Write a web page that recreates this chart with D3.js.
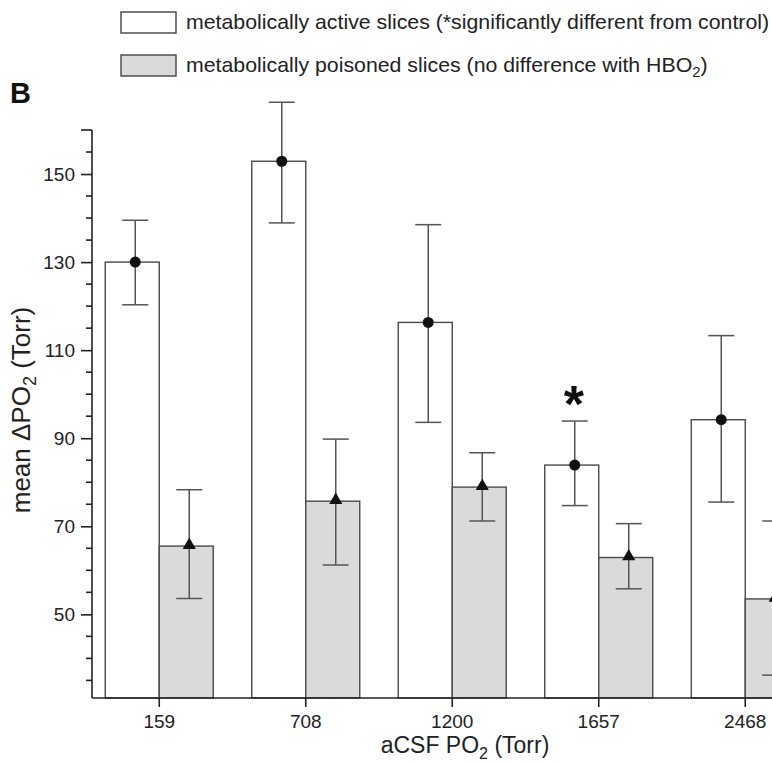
<!DOCTYPE html>
<html>
<head>
    <style>
        body { margin: 0; background: #fff; }
        svg { font-family: "Liberation Sans", Arial, sans-serif; }
        .axis path, .axis line { stroke: #222; stroke-width: 1.6; }
        .axis text { font-size: 19px; fill: #222; }
    </style>
    <script src="https://d3js.org/d3.v7.min.js"></script>
</head>
<body>

<svg width="772" height="764"></svg>

<script>

    var categories = ["159", "708", "1200", "1657", "2468"];

    // metabolically active slices
    var activeMean = [130, 152.9, 116.3, 83.9, 94.2];
    var activeLow  = [120.3, 138.9, 93.6, 74.7, 75.5];
    var activeHigh = [139.5, 166.3, 138.5, 93.9, 113.3];

    // metabolically poisoned slices
    var poisonMean = [65.5, 75.7, 78.9, 62.9, 53.5];
    var poisonLow  = [53.6, 61.2, 71.2, 55.8, 36.2];
    var poisonHigh = [78.3, 89.8, 86.7, 70.6, 71.2];

    var significant = [false, false, false, true, false];

    var yTicks = [50, 70, 90, 110, 130, 150];

    var svg = d3.select("svg");

    var x = d3.scaleBand()
        .domain(categories)
        .range([86, 86 + 5 * 146.5])
        .padding(0);

    var y = d3.scaleLinear()
        .domain([31, 160])
        .range([698, 130]);

    var bw = 54;
    var off = 3; // markers sit a bit right of bar center
    var mid = function(c) { return x(c) + x.bandwidth() / 2; };

    var active = categories.map(function(c, i) {
        return { c: c, m: activeMean[i], lo: activeLow[i], hi: activeHigh[i], cx: mid(c) - bw / 2 + off };
    });
    var poison = categories.map(function(c, i) {
        return { c: c, m: poisonMean[i], lo: poisonLow[i], hi: poisonHigh[i], cx: mid(c) + bw / 2 + off };
    });

    // bars
    svg.selectAll(".bar-a")
        .data(active)
      .enter().append("rect")
        .attr("x", function(d) { return mid(d.c) - bw; })
        .attr("y", function(d) { return y(d.m); })
        .attr("width", bw)
        .attr("height", function(d) { return y(31) - y(d.m); })
        .attr("fill", "#fff")
        .attr("stroke", "#4a4a4a")
        .attr("stroke-width", 1.4);

    svg.selectAll(".bar-p")
        .data(poison)
      .enter().append("rect")
        .attr("x", function(d) { return mid(d.c); })
        .attr("y", function(d) { return y(d.m); })
        .attr("width", bw)
        .attr("height", function(d) { return y(31) - y(d.m); })
        .attr("fill", "#dadada")
        .attr("stroke", "#4a4a4a")
        .attr("stroke-width", 1.4);

    // error bars
    var all = active.concat(poison);
    var eb = svg.selectAll(".err")
        .data(all)
      .enter().append("g")
        .attr("stroke", "#555")
        .attr("stroke-width", 1.5);
    eb.append("line")
        .attr("x1", function(d) { return d.cx; })
        .attr("x2", function(d) { return d.cx; })
        .attr("y1", function(d) { return y(d.lo); })
        .attr("y2", function(d) { return y(d.hi); });
    eb.append("line")
        .attr("x1", function(d) { return d.cx - 13; })
        .attr("x2", function(d) { return d.cx + 13; })
        .attr("y1", function(d) { return y(d.hi); })
        .attr("y2", function(d) { return y(d.hi); });
    eb.append("line")
        .attr("x1", function(d) { return d.cx - 13; })
        .attr("x2", function(d) { return d.cx + 13; })
        .attr("y1", function(d) { return y(d.lo); })
        .attr("y2", function(d) { return y(d.lo); });

    // markers
    svg.selectAll(".dot")
        .data(active)
      .enter().append("circle")
        .attr("cx", function(d) { return d.cx; })
        .attr("cy", function(d) { return y(d.m); })
        .attr("r", 5.5)
        .attr("fill", "#111");

    var tri = d3.symbol().type(d3.symbolTriangle).size(75);
    svg.selectAll(".tri")
        .data(poison)
      .enter().append("path")
        .attr("d", tri)
        .attr("transform", function(d) { return "translate(" + d.cx + "," + (y(d.m) - 1) + ")"; })
        .attr("fill", "#111");

    // significance star
    svg.selectAll(".star")
        .data(active.filter(function(d, i) { return significant[i]; }))
      .enter().append("text")
        .attr("x", function(d) { return d.cx - 1; })
        .attr("y", function(d) { return y(d.hi) + 1; })
        .attr("text-anchor", "middle")
        .attr("font-size", 52)
        .attr("font-weight", "bold")
        .attr("fill", "#111")
        .text("*");

    // axes
    var yAxis = svg.append("g")
        .attr("class", "axis")
        .attr("transform", "translate(92,0)")
        .call(d3.axisLeft(y).tickValues(yTicks).tickSize(11).tickPadding(6).tickSizeOuter(0));
    yAxis.select(".domain").remove();
    yAxis.append("line")
        .attr("x1", 0).attr("x2", 0)
        .attr("y1", y(160)).attr("y2", y(31))
        .attr("stroke", "#222").attr("stroke-width", 1.6);
    yAxis.append("line")
        .attr("x1", -11).attr("x2", 0)
        .attr("y1", y(160)).attr("y2", y(160))
        .attr("stroke", "#222").attr("stroke-width", 1.6);
    yAxis.selectAll(".minor")
        .data(d3.range(35, 160, 5).filter(function(v) { return yTicks.indexOf(v) < 0; }))
      .enter().append("line")
        .attr("x1", -6).attr("x2", 0)
        .attr("y1", function(d) { return y(d); })
        .attr("y2", function(d) { return y(d); })
        .attr("stroke", "#222").attr("stroke-width", 1.4);

    var xAxis = svg.append("g")
        .attr("class", "axis")
        .attr("transform", "translate(0,698)")
        .call(d3.axisBottom(x).tickSize(9).tickPadding(8).tickSizeOuter(0));
    xAxis.select(".domain").attr("d", "M92,0H772");

    // axis titles
    var xt = svg.append("text")
        .attr("x", 465)
        .attr("y", 753)
        .attr("text-anchor", "middle")
        .attr("font-size", 23)
        .attr("fill", "#222");
    xt.append("tspan").text("aCSF PO");
    xt.append("tspan").attr("font-size", 16).attr("dy", 6).text("2");
    xt.append("tspan").attr("dy", -6).text(" (Torr)");

    var yt = svg.append("text")
        .attr("transform", "translate(30,410) rotate(-90)")
        .attr("text-anchor", "middle")
        .attr("font-size", 26)
        .attr("fill", "#222");
    yt.append("tspan").text("mean \u0394PO");
    yt.append("tspan").attr("font-size", 18).attr("dy", 6).text("2");
    yt.append("tspan").attr("dy", -6).text(" (Torr)");

    // panel letter
    svg.append("text")
        .attr("x", 10).attr("y", 103)
        .attr("font-size", 29).attr("font-weight", "bold")
        .attr("fill", "#111")
        .text("B");

    // legend
    var legend = [
        { fill: "#fff", label: "metabolically active slices (*significantly different from control)" },
        { fill: "#dadada", label: "metabolically poisoned slices (no difference with HBO", sub: "2", tail: ")" }
    ];
    var lg = svg.selectAll(".leg")
        .data(legend)
      .enter().append("g")
        .attr("transform", function(d, i) { return "translate(0," + (i * 43) + ")"; });
    lg.append("rect")
        .attr("x", 121).attr("y", 12)
        .attr("width", 55).attr("height", 21)
        .attr("fill", function(d) { return d.fill; })
        .attr("stroke", "#444").attr("stroke-width", 1.4);
    var lt = lg.append("text")
        .attr("transform", "translate(186,29) scale(1.065,1)")
        .attr("font-size", 20)
        .attr("fill", "#222");
    lt.append("tspan").text(function(d) { return d.label; });
    lt.filter(function(d) { return d.sub; }).append("tspan")
        .attr("font-size", 14).attr("dy", 5).text(function(d) { return d.sub; });
    lt.filter(function(d) { return d.tail; }).append("tspan")
        .attr("dy", -5).text(function(d) { return d.tail; });

</script>
</body>
</html>
